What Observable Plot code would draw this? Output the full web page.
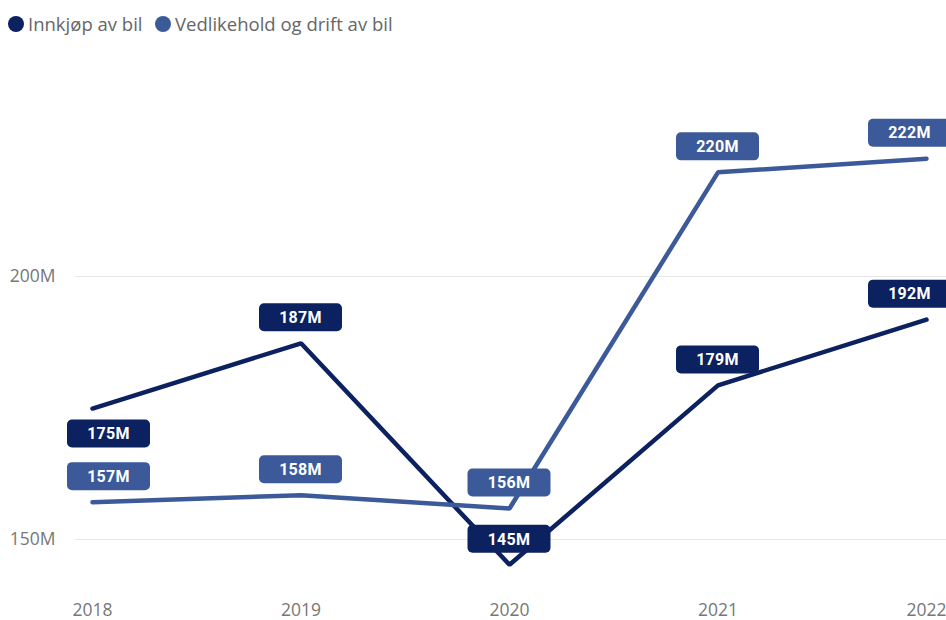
<!DOCTYPE html>
<html>
<head>
<meta charset="utf-8">
<script src="https://cdn.jsdelivr.net/npm/d3@7"></script>
<script src="https://cdn.jsdelivr.net/npm/@observablehq/plot@0.6"></script>
<style>
  html, body { margin: 0; padding: 0; background: #fff; }
  #legend { height: 45px; position: relative; font-family: "Open Sans", "Noto Sans", sans-serif; font-size: 18.5px; color: #666; }
  .item { position: absolute; top: 11px; display: flex; align-items: center; white-space: nowrap; }
  .sw { width: 16px; height: 16px; border-radius: 50%; display: inline-block; margin-right: 4px; }
  #chart svg { display: block; }
</style>
</head>
<body>
<div id="legend"></div>
<div id="chart"></div>
<script>
// ---- data ----
const years = [2018, 2019, 2020, 2021, 2022];
const seriesNames = ["Innkjøp av bil", "Vedlikehold og drift av bil"];
const innkjop = [174.9, 187.3, 145.2, 179.3, 191.8];
const vedlikehold = [157.1, 158.4, 155.9, 219.8, 222.4];
const yTicks = [150, 200];

// ---- style / layout config ----
const colors = {"Innkjøp av bil": "#0c2160", "Vedlikehold og drift av bil": "#3c5a99"};
const labelBelow = {"Innkjøp av bil": [2018], "Vedlikehold og drift av bil": []};
const W = 946, H = 575;

const rows = [];
years.forEach((yr, i) => {
  rows.push({series: seriesNames[0], year: yr, value: innkjop[i]});
  rows.push({series: seriesNames[1], year: yr, value: vedlikehold[i]});
});

// legend
const legend = document.getElementById("legend");
const legendPos = [8, 155];
seriesNames.forEach((s, i) => {
  const it = document.createElement("div");
  it.className = "item";
  it.style.left = legendPos[i] + "px";
  it.innerHTML = `<span class="sw" style="background:${colors[s]}"></span><span>${s}</span>`;
  legend.appendChild(it);
});

const BOX_W = 83, BOX_H = 28, OFF = 25.5;

const labelMark = Plot.text(rows, {
  x: "year", y: "value", text: d => Math.round(d.value) + "M",
  render(index, scales, values, dims) {
    const g = d3.create("svg:g");
    for (const i of index) {
      const d = rows[i];
      const px = values.x[i], py = values.y[i];
      const half = BOX_W / 2;
      const cx = Math.max(67 + half, Math.min(951 - half, px));
      const below = labelBelow[d.series].includes(d.year);
      const cy = below ? py + OFF : py - OFF;
      g.append("rect")
        .attr("x", cx - half).attr("y", cy - BOX_H / 2)
        .attr("width", BOX_W).attr("height", BOX_H)
        .attr("rx", 5).attr("ry", 5)
        .attr("fill", colors[d.series]);
      g.append("text")
        .attr("x", cx).attr("y", cy)
        .attr("dy", "0.36em")
        .attr("text-anchor", "middle")
        .attr("fill", "#fff")
        .attr("font-family", "Roboto, sans-serif")
        .attr("font-weight", "bold")
        .attr("font-size", "16px")
        .attr("letter-spacing", "0.3px")
        .text(Math.round(d.value) + "M");
    }
    return g.node();
  }
});

const chart = Plot.plot({
  width: W, height: H,
  marginLeft: 75, marginRight: 0, marginTop: 0, marginBottom: 17,
  style: {fontFamily: "'Open Sans', 'Noto Sans', sans-serif", fontSize: "17.5px", background: "#fff"},
  x: {type: "linear", domain: [2018, 2022], range: [92, 926]},
  y: {domain: [150, 200], range: [494, 231]},
  marks: [
    Plot.gridY(yTicks, {stroke: "#e6e6e6", strokeOpacity: 1, strokeWidth: 1.2}),
    Plot.axisY({ticks: yTicks, tickSize: 0, tickPadding: 20, tickFormat: d => d + "M", color: "#777", label: null}),
    Plot.axisX({ticks: years, tickSize: 0, tickPadding: 0, tickFormat: d => String(d), color: "#777", label: null}),
    Plot.line(rows, {x: "year", y: "value", z: "series", stroke: d => colors[d.series], strokeWidth: 4.5, strokeLinecap: "round", strokeLinejoin: "miter"}),
    labelMark
  ]
});
document.getElementById("chart").appendChild(chart);
</script>
</body>
</html>
